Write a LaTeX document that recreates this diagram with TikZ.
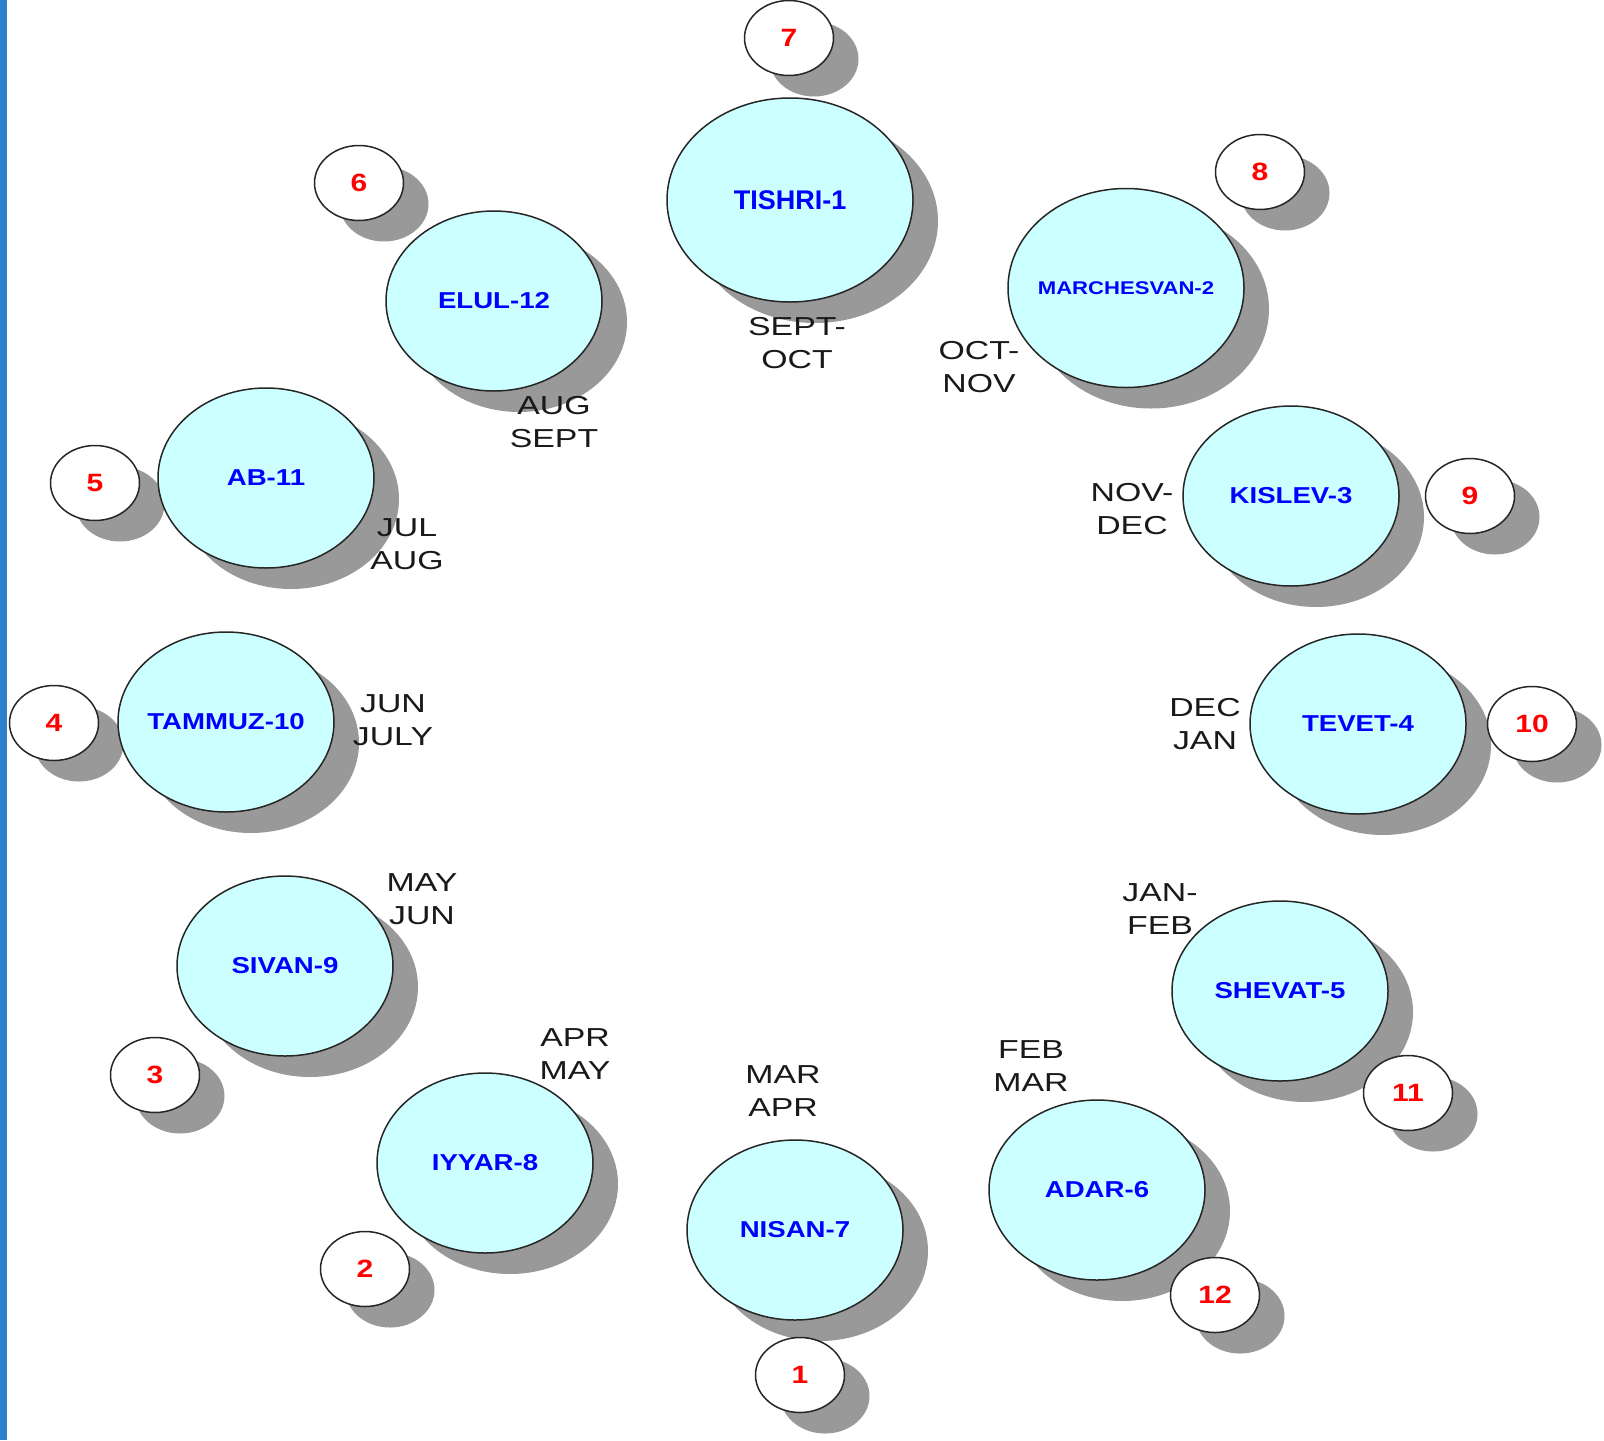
\documentclass[tikz,border=0pt]{standalone}
\usepackage{fontspec}
\setmainfont{Liberation Sans}[FakeStretch=1.2]
\newfontfamily\plainsans{Liberation Sans}
\newfontfamily\widesans{Liberation Sans}[FakeStretch=1.3]
\usetikzlibrary{shapes.geometric,calc}

\definecolor{monthfill}{HTML}{CCFFFF}
\definecolor{monthblue}{HTML}{0000FF}
\definecolor{numred}{HTML}{FF0000}
\definecolor{shadowgray}{HTML}{999999}
\definecolor{stripblue}{HTML}{2B80C8}

\pgfdeclarelayer{background}
\pgfsetlayers{background,main}

\tikzset{
  month/.style={ellipse, draw=black!85, line width=0.75pt, fill=monthfill, text=monthblue,
    font=\fontsize{11.5}{13}\selectfont\bfseries, minimum width=108pt, minimum height=90pt,
    inner xsep=-6pt, inner ysep=0pt, outer sep=0pt},
  num/.style={ellipse, draw=black!85, line width=0.75pt, fill=white, text=numred,
    font=\fontsize{12.5}{14}\selectfont\bfseries, minimum width=44.5pt, minimum height=37.5pt,
    inner sep=0pt, outer sep=0pt},
  span/.style={align=center, text=black!90, font=\widesans\fontsize{13}{16.75}\selectfont}
}

\begin{document}
\begin{tikzpicture}[x=0.5pt,y=-0.5pt]
    \useasboundingbox (0,0) rectangle (1604,1440);
    \fill[stripblue] (0,0) rectangle (7,1440);

    \node[month, minimum width=123pt, minimum height=102pt,
      font=\plainsans\fontsize{13.5}{15}\selectfont\bfseries] (tishri) at (790,200) {TISHRI-1};
    \node[month, minimum width=118pt, minimum height=99.5pt,
      font=\fontsize{9.2}{10}\selectfont\bfseries] (marchesvan) at (1126,288) {MARCHESVAN-2};
    \node[month] (kislev) at (1291,496) {KISLEV-3};
    \node[month] (tevet) at (1358,724) {TEVET-4};
    \node[month] (shevat) at (1280,991) {SHEVAT-5};
    \node[month] (adar) at (1097,1190) {ADAR-6};
    \node[month] (nisan) at (795,1230) {NISAN-7};
    \node[month] (iyyar) at (485,1163) {IYYAR-8};
    \node[month] (sivan) at (285,966) {SIVAN-9};
    \node[month] (tammuz) at (226,722) {TAMMUZ-10};
    \node[month] (ab) at (266,478) {AB-11};
    \node[month] (elul) at (494,301) {ELUL-12};

    \foreach \k/\x/\y in {1/800/1375, 2/365/1269, 3/155/1075, 4/54/723, 5/95/483, 6/359/183,
      7/789/38, 8/1260/172, 9/1470/496, 10/1532/724, 11/1408/1093, 12/1215/1295}
      \node[num] (n\k) at (\x,\y) {\k};

%   shadows behind every disc
    \begin{pgfonlayer}{background}
    \foreach \disc in {tishri,marchesvan,kislev,tevet,shevat,adar,nisan,iyyar,sivan,tammuz,ab,elul,
      n1,n2,n3,n4,n5,n6,n7,n8,n9,n10,n11,n12}
      \fill[shadowgray] let \p1=(\disc.center), \p2=(\disc.east), \p3=(\disc.north) in
        (\x1+12.5pt,\y1-10.5pt) ellipse ({\x2-\x1} and {\y3-\y1});
    \end{pgfonlayer}

    \node[span] (lsept) at (797,343) {SEPT-\\OCT};
    \node[span] (loct) at (979,367) {OCT-\\NOV};
    \node[span] (lnov) at (1132,509) {NOV-\\DEC};
    \node[span] (ldec) at (1205,724) {DEC\\JAN};
    \node[span] (ljan) at (1160,909) {JAN-\\FEB};
    \node[span] (lfeb) at (1031,1066) {FEB\\MAR};
    \node[span] (lmar) at (783,1091) {MAR\\APR};
    \node[span] (lapr) at (575,1054) {APR\\MAY};
    \node[span] (lmay) at (422,899) {MAY\\JUN};
    \node[span] (ljun) at (393,720) {JUN\\JULY};
    \node[span] (ljul) at (407,544) {JUL\\AUG};
    \node[span] (laug) at (554,422) {AUG\\SEPT};

\end{tikzpicture}
\end{document}
